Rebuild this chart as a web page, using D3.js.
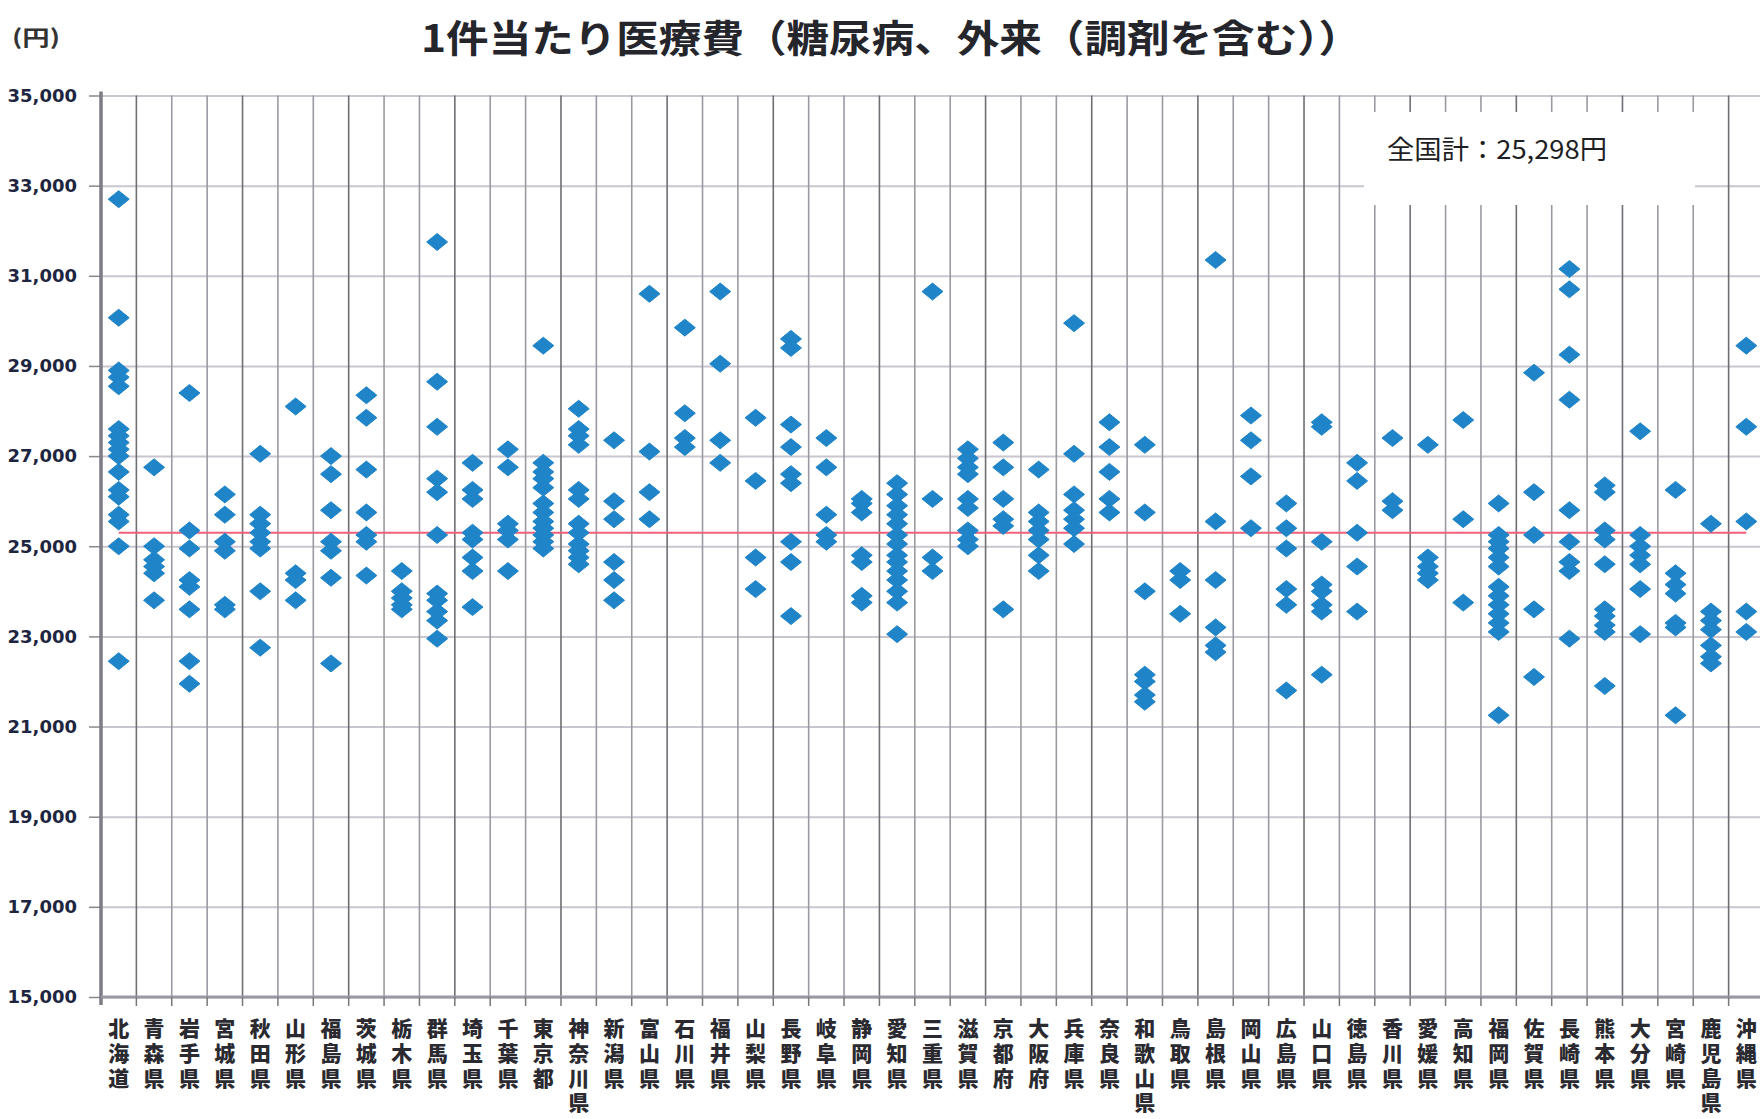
<!DOCTYPE html>
<html>
<head>
  <meta charset="utf-8" />
  <script src="https://d3js.org/d3.v7.min.js"></script>
  <style>
    body { margin: 0; background: #fff; }
    svg { display: block; }
    .grid line { stroke: #c9c6d0; stroke-width: 2px; }
    .grid path { display: none; }
    .yaxis text { font: bold 18px "DejaVu Sans", sans-serif; fill: #1d2540; }
    .yaxis line { stroke: #888; stroke-width: 1.5px; }
    .yaxis path { display: none; }
  </style>
</head>
<body>
  <script>
    var prefs = ["北海道","青森県","岩手県","宮城県","秋田県","山形県","福島県","茨城県","栃木県","群馬県",
      "埼玉県","千葉県","東京都","神奈川県","新潟県","富山県","石川県","福井県","山梨県","長野県",
      "岐阜県","静岡県","愛知県","三重県","滋賀県","京都府","大阪府","兵庫県","奈良県","和歌山県",
      "鳥取県","島根県","岡山県","広島県","山口県","徳島県","香川県","愛媛県","高知県","福岡県",
      "佐賀県","長崎県","熊本県","大分県","宮崎県","鹿児島県","沖縄県"];

    // 1件当たり医療費 (円), one list of dots per prefecture
    var costs = [
      [32700, 30070, 28900, 28750, 28550, 27600, 27450, 27300, 27150, 27000, 26650, 26250, 26100, 25700, 25550, 25000, 22450],
      [26750, 25000, 24700, 24550, 24400, 23800],
      [28400, 25350, 24950, 24250, 24100, 23600, 22450, 21950],
      [26150, 25700, 25100, 24900, 23700, 23600],
      [27050, 25700, 25500, 25300, 25100, 24950, 24000, 22750],
      [28100, 24400, 24250, 23800],
      [27000, 26600, 25800, 25100, 24900, 24300, 22400],
      [28350, 27850, 26700, 25750, 25250, 25100, 24350],
      [24450, 24000, 23850, 23700, 23600],
      [31750, 28650, 27650, 26500, 26200, 25250, 23950, 23800, 23550, 23350, 22950],
      [26850, 26250, 26050, 25300, 25150, 24750, 24450, 23650],
      [27150, 26750, 25500, 25350, 25150, 24450],
      [29450, 26850, 26650, 26500, 26300, 25950, 25750, 25550, 25400, 25250, 25100, 24950],
      [28050, 27600, 27450, 27250, 26250, 26050, 25500, 25300, 25050, 24900, 24750, 24600],
      [27350, 26000, 25600, 24650, 24250, 23800],
      [30600, 27100, 26200, 25600],
      [29850, 27950, 27400, 27200],
      [30650, 29050, 27350, 26850],
      [27850, 26450, 24750, 24050],
      [29600, 29400, 27700, 27200, 26600, 26400, 25100, 24650, 23450],
      [27400, 26750, 25700, 25250, 25100],
      [26050, 25950, 25750, 24800, 24650, 23900, 23750],
      [26400, 26150, 25900, 25700, 25500, 25250, 25050, 24800, 24650, 24450, 24250, 24000, 23750, 23050],
      [30650, 26050, 24750, 24450],
      [27150, 26950, 26750, 26600, 26050, 25850, 25350, 25150, 25000],
      [27300, 26750, 26050, 25600, 25450, 23600],
      [26700, 25750, 25550, 25350, 25150, 24800, 24450],
      [29950, 27050, 26150, 25800, 25600, 25400, 25050],
      [27750, 27200, 26650, 26050, 25750],
      [27250, 25750, 24000, 22150, 22000, 21700, 21550],
      [24450, 24250, 23500],
      [31350, 25550, 24250, 23200, 22800, 22650],
      [27900, 27350, 26550, 25400],
      [25950, 25400, 24950, 24050, 23700, 21800],
      [27750, 27650, 25100, 24150, 24000, 23700, 23550, 22150],
      [26850, 26450, 25300, 24550, 23550],
      [27400, 26000, 25800],
      [27250, 24750, 24550, 24400, 24250],
      [27800, 25600, 23750],
      [25950, 25250, 25100, 24950, 24750, 24550, 24100, 23900, 23700, 23500, 23300, 23100, 21250],
      [28850, 26200, 25250, 23600, 22100],
      [31150, 30700, 29250, 28250, 25800, 25100, 24650, 24450, 22950],
      [26350, 26200, 25350, 25150, 24600, 23600, 23450, 23250, 23100, 21900],
      [27550, 25250, 25000, 24800, 24600, 24050, 23050],
      [26250, 24400, 24150, 23950, 23300, 23200, 21250],
      [25500, 23550, 23350, 23150, 22800, 22550, 22400],
      [29450, 27650, 25550, 23550, 23100]
    ];

    var nationalAvg = 25298;
    var yTicks = [15000, 17000, 19000, 21000, 23000, 25000, 27000, 29000, 31000, 33000, 35000];
    var title = "1件当たり医療費（糖尿病、外来（調剤を含む））";
    var unitLabel = "(円)";
    var legendLabel = "全国計：25,298円";

    var width = 1760, height = 1119;
    var plotLeft = 101, plotRight = 1764, plotTop = 95.5, plotBottom = 997;

    var x = d3.scaleBand().domain(prefs).range([plotLeft, plotRight]);
    var y = d3.scaleLinear().domain([15000, 35000]).range([plotBottom, plotTop]);

    var svg = d3.select("body").append("svg")
      .attr("width", width)
      .attr("height", height);

    // horizontal gridlines
    svg.append("g")
      .attr("class", "grid")
      .attr("transform", `translate(${plotLeft} 0)`)
      .call(d3.axisLeft(y).tickValues(yTicks).tickSize(-(plotRight - plotLeft)).tickFormat(""));

    // vertical gridlines between categories
    svg.append("g")
      .selectAll("line")
      .data(prefs.slice(1))
      .enter()
      .append("line")
      .attr("x1", function(d) { return x(d); })
      .attr("x2", function(d) { return x(d); })
      .attr("y1", plotTop)
      .attr("y2", plotBottom)
      .style("stroke", function(d, i) { return i % 3 == 0 ? "#6e6e74" : "#9a9aa2"; })
      .style("stroke-width", "1.6px");

    // y axis
    svg.append("g")
      .attr("class", "yaxis")
      .attr("transform", `translate(${plotLeft} 0)`)
      .call(d3.axisLeft(y).tickValues(yTicks).tickSize(12).tickPadding(12).tickFormat(d3.format(",")));

    svg.append("line")
      .attr("x1", plotLeft).attr("x2", plotLeft)
      .attr("y1", plotTop - 4).attr("y2", plotBottom + 8)
      .style("stroke", "#7c7c84")
      .style("stroke-width", "3.5px");

    // x axis line + ticks at category edges
    svg.append("line")
      .attr("x1", plotLeft).attr("x2", plotRight)
      .attr("y1", plotBottom).attr("y2", plotBottom)
      .style("stroke", "#9a98a2")
      .style("stroke-width", "3px");

    svg.append("g")
      .selectAll("line")
      .data(prefs)
      .enter()
      .append("line")
      .attr("x1", function(d) { return x(d) + x.bandwidth(); })
      .attr("x2", function(d) { return x(d) + x.bandwidth(); })
      .attr("y1", plotBottom)
      .attr("y2", plotBottom + 9)
      .style("stroke", "#777")
      .style("stroke-width", "1.5px");

    // category labels, written top to bottom
    svg.append("g")
      .selectAll("text")
      .data(prefs)
      .enter()
      .append("text")
      .attr("x", function(d) { return x(d) + x.bandwidth() / 2; })
      .attr("y", 1018)
      .style("writing-mode", "vertical-rl")
      .style("letter-spacing", "3.6px")
      .style("font", "900 21px 'Noto Sans CJK JP', sans-serif")
      .style("fill", "#2a2a30")
      .text(function(d) { return d; });

    // legend box
    svg.append("rect")
      .attr("x", 1364)
      .attr("y", 112)
      .attr("width", 331)
      .attr("height", 93)
      .style("fill", "#fff");

    svg.append("text")
      .attr("x", 1387)
      .attr("y", 159)
      .attr("textLength", 220)
      .attr("lengthAdjust", "spacingAndGlyphs")
      .style("font", "26px 'Noto Sans CJK JP', sans-serif")
      .style("fill", "#1e1e24")
      .text(legendLabel);

    // national average line, drawn from the first to the last category
    var avgLine = d3.line()
      .x(function(d) { return x(d) + x.bandwidth() / 2; })
      .y(function() { return y(nationalAvg); });

    svg.append("path")
      .attr("d", avgLine([prefs[0], prefs[prefs.length - 1]]))
      .style("stroke", "#f0607a")
      .style("stroke-width", "2px")
      .style("fill", "none");

    // dots
    var points = [];
    costs.forEach(function(list, i) {
      list.forEach(function(v) {
        points.push({ pref: prefs[i], value: v });
      });
    });

    svg.append("g")
      .selectAll("path")
      .data(points)
      .enter()
      .append("path")
      .attr("transform", function(d) {
        return `translate(${x(d.pref) + x.bandwidth() / 2} ${y(d.value)})`;
      })
      .attr("d", "M0,-8.5 L10.5,0 L0,8.5 L-10.5,0Z")
      .style("fill", "#1f84c8")
      .style("stroke", "#1f84c8")
      .style("stroke-width", "1px")
      .style("stroke-linejoin", "round");

    // title and unit
    svg.append("text")
      .attr("x", 891)
      .attr("y", 52)
      .attr("text-anchor", "middle")
      .attr("textLength", 940)
      .attr("lengthAdjust", "spacingAndGlyphs")
      .style("font", "bold 38px 'Noto Sans CJK JP', sans-serif")
      .style("fill", "#25252c")
      .text(title);

    svg.append("text")
      .attr("x", 12)
      .attr("y", 45)
      .attr("textLength", 48)
      .attr("lengthAdjust", "spacingAndGlyphs")
      .style("font", "bold 21px 'Noto Sans CJK JP', sans-serif")
      .style("fill", "#333")
      .text(unitLabel);
  </script>
</body>
</html>
